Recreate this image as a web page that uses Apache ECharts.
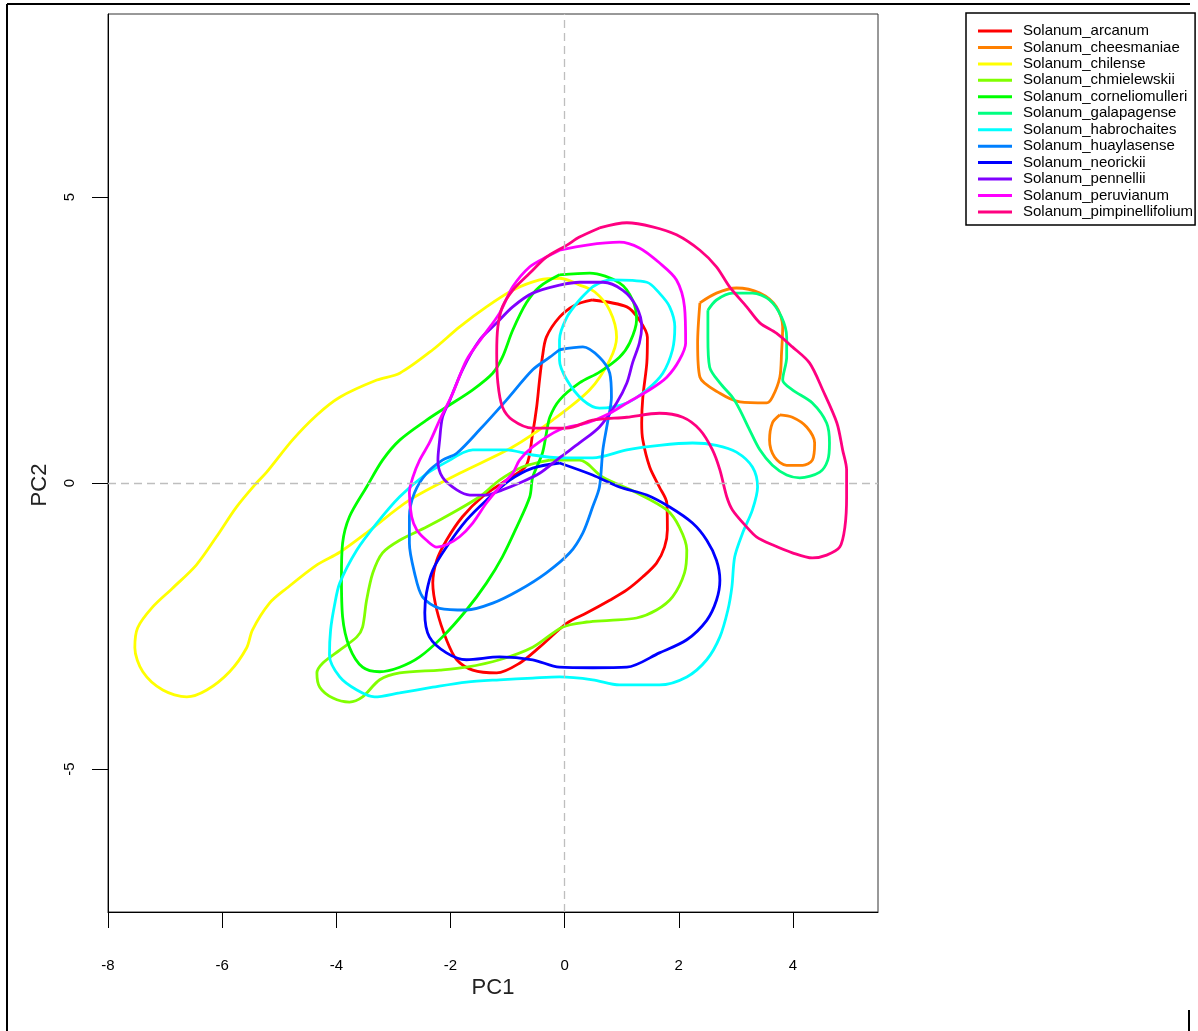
<!DOCTYPE html>
<html>
<head>
<meta charset="utf-8">
<script src="https://cdn.jsdelivr.net/npm/echarts@6/dist/echarts.min.js"></script>
<style>html,body{margin:0;padding:0;background:#fff}#c{width:1198px;height:1031px}</style>
</head>
<body>
<div id="c"></div>
<script>
// ---- data (PC1, PC2) ----
const speciesNames = ['Solanum_arcanum','Solanum_cheesmaniae','Solanum_chilense','Solanum_chmielewskii','Solanum_corneliomulleri','Solanum_galapagense','Solanum_habrochaites','Solanum_huaylasense','Solanum_neorickii','Solanum_pennellii','Solanum_peruvianum','Solanum_pimpinellifolium'];
const speciesColors = ['#FF0000','#FF8000','#FFFF00','#80FF00','#00FF00','#00FF80','#00FFFF','#0080FF','#0000FF','#8000FF','#FF00FF','#FF0080'];
const xTicks = [-8,-6,-4,-2,0,2,4];
const yTicks = [-5,0,5];

const arcanum = [[0.49,3.20],[1.09,3.08],[1.31,2.85],[1.45,2.55],[1.44,2.10],[1.37,1.50],[1.35,1.05],[1.37,0.75],[1.49,0.28],[1.66,-0.07],[1.79,-0.35],[1.80,-0.82],[1.75,-1.12],[1.61,-1.40],[1.37,-1.64],[1.09,-1.87],[0.79,-2.05],[0.39,-2.27],[0.04,-2.45],[-0.44,-2.87],[-0.79,-3.15],[-1.19,-3.32],[-1.61,-3.27],[-1.89,-3.09],[-2.07,-2.74],[-2.24,-2.22],[-2.31,-1.75],[-2.24,-1.35],[-2.07,-1.00],[-1.79,-0.59],[-1.44,-0.24],[-0.96,0.09],[-0.67,0.31],[-0.56,0.87],[-0.49,1.33],[-0.44,1.80],[-0.39,2.20],[-0.32,2.55],[-0.09,2.90],[0.18,3.11]];
const cheesmaniaeA = [[2.37,3.15],[2.66,3.32],[3.01,3.41],[3.42,3.32],[3.71,3.08],[3.82,2.73],[3.80,2.27],[3.77,1.85],[3.64,1.50],[3.54,1.40],[3.07,1.42],[2.72,1.57],[2.37,1.85],[2.33,2.45]];
const cheesmaniaeB = [[3.77,1.19],[3.99,1.15],[4.24,0.98],[4.38,0.70],[4.34,0.40],[4.17,0.31],[3.89,0.31],[3.68,0.45],[3.59,0.75],[3.64,1.05]];
const chilense = [[0.26,3.46],[-0.09,3.58],[-0.44,3.55],[-0.91,3.37],[-1.37,3.08],[-1.84,2.73],[-2.31,2.33],[-2.89,1.92],[-3.29,1.80],[-3.94,1.50],[-4.34,1.19],[-4.77,0.75],[-5.22,0.19],[-5.40,0.00],[-5.75,-0.42],[-6.10,-0.94],[-6.45,-1.43],[-6.87,-1.84],[-7.22,-2.17],[-7.48,-2.53],[-7.53,-2.88],[-7.39,-3.30],[-7.04,-3.62],[-6.62,-3.74],[-6.27,-3.62],[-5.87,-3.30],[-5.57,-2.88],[-5.47,-2.57],[-5.17,-2.10],[-4.87,-1.84],[-4.34,-1.43],[-3.94,-1.21],[-3.47,-0.87],[-2.72,-0.30],[-1.84,0.17],[-0.91,0.63],[-0.21,1.10],[0.44,1.63],[0.79,2.15],[0.91,2.55],[0.79,3.02],[0.53,3.34]];
const chmielewskii = [[-0.26,0.40],[0.26,0.40],[0.67,0.10],[1.26,-0.17],[1.79,-0.47],[2.01,-0.77],[2.14,-1.17],[2.10,-1.57],[1.89,-1.99],[1.61,-2.22],[1.26,-2.36],[0.79,-2.40],[0.39,-2.43],[-0.04,-2.52],[-0.56,-2.87],[-1.14,-3.09],[-1.72,-3.22],[-2.19,-3.27],[-2.89,-3.32],[-3.24,-3.44],[-3.54,-3.74],[-3.77,-3.83],[-4.06,-3.76],[-4.29,-3.57],[-4.34,-3.32],[-4.24,-3.15],[-3.94,-2.92],[-3.64,-2.69],[-3.54,-2.52],[-3.47,-2.05],[-3.36,-1.57],[-3.19,-1.22],[-2.89,-1.00],[-2.42,-0.77],[-1.96,-0.52],[-1.49,-0.24],[-1.14,0.05],[-0.74,0.28]];
const corneliomulleri = [[-0.09,3.64],[-0.44,3.43],[-0.67,3.15],[-0.91,2.67],[-1.09,2.20],[-1.26,1.92],[-1.61,1.63],[-2.07,1.33],[-2.42,1.10],[-2.89,0.75],[-3.19,0.40],[-3.47,-0.07],[-3.77,-0.59],[-3.89,-1.05],[-3.91,-1.64],[-3.89,-2.34],[-3.77,-2.87],[-3.54,-3.22],[-3.24,-3.30],[-2.89,-3.22],[-2.54,-3.04],[-2.14,-2.69],[-1.72,-2.22],[-1.37,-1.75],[-1.09,-1.29],[-0.84,-0.77],[-0.61,-0.24],[-0.56,0.10],[-0.39,0.52],[-0.32,0.87],[-0.26,1.15],[-0.09,1.45],[0.26,1.75],[0.61,1.94],[0.96,2.20],[1.14,2.45],[1.26,2.85],[1.19,3.20],[0.96,3.50],[0.44,3.67]];
const galapagense = [[2.51,3.02],[2.66,3.20],[2.94,3.32],[3.29,3.32],[3.59,3.20],[3.80,2.90],[3.89,2.55],[3.89,2.20],[3.82,1.80],[3.99,1.63],[4.34,1.40],[4.59,1.05],[4.64,0.70],[4.61,0.40],[4.47,0.19],[4.12,0.09],[3.89,0.14],[3.64,0.31],[3.42,0.58],[3.24,0.93],[3.07,1.28],[2.94,1.50],[2.72,1.75],[2.54,2.03],[2.51,2.55]];
const habrochaitesA = [[0.49,3.43],[0.79,3.55],[1.44,3.51],[1.66,3.32],[1.84,3.08],[1.93,2.73],[1.89,2.33],[1.72,1.92],[1.44,1.63],[1.09,1.40],[0.61,1.31],[0.32,1.45],[0.04,1.80],[-0.09,2.15],[-0.09,2.50],[0.04,2.90],[0.26,3.20]];
const habrochaitesB = [[-2.01,0.40],[-1.61,0.58],[-1.02,0.58],[-0.56,0.49],[-0.04,0.44],[0.49,0.44],[1.09,0.58],[1.66,0.66],[2.24,0.70],[2.66,0.66],[3.01,0.54],[3.29,0.28],[3.38,-0.07],[3.29,-0.47],[3.12,-0.87],[2.98,-1.29],[2.93,-1.82],[2.86,-2.22],[2.72,-2.69],[2.49,-3.09],[2.14,-3.39],[1.66,-3.53],[0.96,-3.53],[0.49,-3.44],[-0.09,-3.39],[-0.56,-3.41],[-1.14,-3.44],[-1.72,-3.48],[-2.31,-3.57],[-2.89,-3.67],[-3.33,-3.74],[-3.64,-3.62],[-3.94,-3.39],[-4.12,-3.01],[-4.10,-2.57],[-4.03,-2.13],[-3.94,-1.75],[-3.64,-1.17],[-3.29,-0.70],[-2.89,-0.24],[-2.45,0.14]];
const huaylasense = [[-0.09,2.33],[0.32,2.38],[0.61,2.20],[0.79,1.92],[0.82,1.50],[0.75,1.05],[0.67,0.58],[0.61,-0.07],[0.49,-0.42],[0.32,-0.87],[0.09,-1.22],[-0.32,-1.57],[-0.79,-1.87],[-1.26,-2.10],[-1.72,-2.22],[-2.19,-2.19],[-2.49,-1.99],[-2.63,-1.57],[-2.72,-1.05],[-2.72,-0.59],[-2.63,-0.17],[-2.42,0.17],[-2.14,0.40],[-1.89,0.52],[-1.49,0.93],[-1.02,1.45],[-0.56,1.98],[-0.26,2.20]];
const neorickii = [[-0.09,0.35],[0.49,0.14],[0.96,-0.07],[1.44,-0.21],[1.84,-0.42],[2.24,-0.70],[2.49,-1.00],[2.66,-1.35],[2.72,-1.70],[2.66,-2.05],[2.49,-2.40],[2.14,-2.74],[1.66,-2.97],[1.09,-3.22],[0.49,-3.23],[-0.09,-3.22],[-0.56,-3.09],[-1.14,-3.04],[-1.72,-3.09],[-2.07,-2.97],[-2.37,-2.69],[-2.45,-2.27],[-2.42,-1.92],[-2.31,-1.52],[-2.07,-1.12],[-1.72,-0.65],[-1.37,-0.30],[-0.96,0.05],[-0.56,0.26]];
const pennellii = [[-0.09,3.46],[0.26,3.51],[0.67,3.51],[1.02,3.37],[1.26,3.08],[1.35,2.73],[1.31,2.45],[1.19,2.10],[1.09,1.75],[0.91,1.40],[0.61,0.98],[0.26,0.70],[-0.09,0.44],[-0.44,0.17],[-0.79,0.00],[-1.09,-0.12],[-1.37,-0.21],[-1.66,-0.21],[-1.89,-0.12],[-2.14,0.10],[-2.22,0.40],[-2.19,0.75],[-2.14,1.15],[-2.01,1.45],[-1.79,1.98],[-1.49,2.50],[-1.19,2.80],[-0.91,3.08],[-0.56,3.32]];
const peruvianum = [[-0.09,4.07],[0.39,4.16],[0.96,4.21],[1.31,4.11],[1.66,3.85],[1.96,3.55],[2.10,3.08],[2.12,2.45],[2.01,2.15],[1.79,1.85],[1.49,1.63],[1.09,1.40],[0.79,1.22],[0.39,1.05],[-0.09,0.93],[-0.56,0.63],[-0.79,0.40],[-0.91,0.17],[-1.14,-0.07],[-1.37,-0.35],[-1.61,-0.70],[-1.84,-0.94],[-2.07,-1.08],[-2.24,-1.12],[-2.42,-1.00],[-2.59,-0.82],[-2.68,-0.59],[-2.72,-0.17],[-2.66,0.10],[-2.54,0.40],[-2.37,0.70],[-2.19,1.10],[-1.96,1.57],[-1.72,2.15],[-1.44,2.55],[-1.14,2.97],[-0.91,3.43],[-0.61,3.78],[-0.32,3.95]];
const pimpinellifolium = [[0.61,4.46],[1.09,4.55],[1.54,4.48],[1.96,4.34],[2.37,4.07],[2.66,3.78],[2.89,3.43],[3.19,3.08],[3.42,2.80],[3.71,2.62],[3.99,2.38],[4.29,2.10],[4.52,1.63],[4.77,1.05],[4.87,0.58],[4.94,0.23],[4.94,-0.24],[4.91,-0.77],[4.82,-1.12],[4.59,-1.26],[4.34,-1.31],[3.99,-1.22],[3.64,-1.08],[3.36,-0.94],[3.19,-0.77],[2.94,-0.47],[2.84,-0.24],[2.72,0.23],[2.59,0.58],[2.37,0.93],[2.07,1.15],[1.66,1.22],[1.09,1.15],[0.49,1.10],[0.04,0.96],[-0.56,0.96],[-0.91,1.10],[-1.09,1.33],[-1.17,1.75],[-1.19,2.27],[-1.17,2.73],[-1.09,3.08],[-0.91,3.37],[-0.61,3.67],[-0.32,3.95],[0.04,4.16],[0.26,4.30]];

const speciesRings = [[arcanum],[cheesmaniaeA,cheesmaniaeB],[chilense],[chmielewskii],[corneliomulleri],[galapagense],[habrochaitesA,habrochaitesB],[huaylasense],[neorickii],[pennellii],[peruvianum],[pimpinellifolium]];

function ringsToData(rings){
  const out = [];
  rings.forEach((r, i) => {
    if (i > 0) out.push(['-','-']);
    r.forEach(p => out.push(p));
    out.push(r[0]);
  });
  return out;
}

const FONT = '"Liberation Sans", Arial, sans-serif';
const chart = echarts.init(document.getElementById('c'), null, {renderer:'canvas'});

const series = speciesNames.map((n, i) => ({
  name: n,
  type: 'line',
  data: ringsToData(speciesRings[i]),
  showSymbol: false,
  symbol: 'none',
  smooth: 0.3,
  connectNulls: false,
  lineStyle: {color: speciesColors[i], width: 2.8},
  itemStyle: {color: speciesColors[i]},
  z: 3 + i * 0.01,
  animation: false
}));

series.unshift({
  name: '_ref',
  type: 'line',
  data: [],
  silent: true,
  z: 1,
  markLine: {
    silent: true,
    symbol: 'none',
    animation: false,
    label: {show: false},
    lineStyle: {color: '#BEBEBE', type: [8, 5], width: 1.3},
    data: [{xAxis: 0}, {yAxis: 0}]
  }
});

chart.setOption({
  animation: false,
  backgroundColor: '#ffffff',
  grid: {left: 108, top: 14, width: 770, height: 898, show: true, borderColor: '#333', borderWidth: 1, backgroundColor: 'transparent'},
  xAxis: {
    type: 'value', min: -8, max: 5.49,
    splitLine: {show: false},
    axisLine: {show: true, onZero: false, lineStyle: {color: '#000', width: 1}},
    axisTick: {show: true, length: 16, lineStyle: {color: '#000', width: 1}, customValues: xTicks},
    axisLabel: {customValues: xTicks, margin: 46, color: '#000', fontSize: 15, fontFamily: FONT}
  },
  yAxis: {
    type: 'value', min: -7.5, max: 8.2,
    splitLine: {show: false},
    axisLine: {show: true, onZero: false, lineStyle: {color: '#000', width: 1}},
    axisTick: {show: true, length: 16, lineStyle: {color: '#000', width: 1}, customValues: yTicks},
    axisLabel: {customValues: yTicks, rotate: 90, margin: 31, color: '#000', fontSize: 15, fontFamily: FONT}
  },
  legend: {
    data: speciesNames,
    orient: 'vertical',
    left: 966, top: 13,
    icon: 'rect',
    itemWidth: 34, itemHeight: 3,
    itemGap: 0.45,
    padding: [10, 2, 5, 12],
    borderColor: '#000', borderWidth: 1.5,
    selectedMode: false,
    textStyle: {fontSize: 15, lineHeight: 16, color: '#000', fontFamily: FONT, padding: [0, 0, 0, 6], width: 170, overflow: 'none'}
  },
  graphic: [
    {type: 'text', style: {text: 'PC1', textAlign: 'center', textVerticalAlign: 'middle', fontSize: 22, fontFamily: FONT, fill: '#222'}, x: 493, y: 988, silent: true},
    {type: 'text', style: {text: 'PC2', textAlign: 'center', textVerticalAlign: 'middle', fontSize: 22, fontFamily: FONT, fill: '#222'}, x: 40, y: 485, rotation: Math.PI / 2, silent: true},
    {type: 'line', shape: {x1: 7, y1: 4, x2: 1190, y2: 4}, style: {stroke: '#000', lineWidth: 2}, silent: true},
    {type: 'line', shape: {x1: 7, y1: 4, x2: 7, y2: 1031}, style: {stroke: '#000', lineWidth: 2}, silent: true},
    {type: 'line', shape: {x1: 1189, y1: 1010, x2: 1189, y2: 1031}, style: {stroke: '#000', lineWidth: 2}, silent: true}
  ],
  series: series
});
</script>
</body>
</html>
